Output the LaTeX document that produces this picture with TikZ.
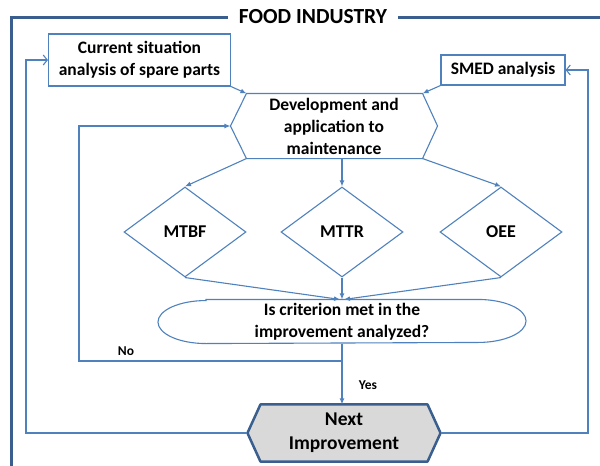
\documentclass[tikz,border=0pt]{standalone}
\usepackage{fontspec}
\setmainfont{Carlito}
\usetikzlibrary{shapes.geometric,arrows.meta,backgrounds}

\definecolor{lineblue}{HTML}{4F81BD}
\definecolor{frameblue}{HTML}{3A5F8F}
\definecolor{nextgray}{HTML}{D9D9D9}

\tikzset{
  box/.style={draw=lineblue, line width=1.1pt, align=center, inner sep=0pt,
    font=\bfseries\fontsize{17.5}{22}\selectfont},
  dia/.style={diamond, draw=lineblue, line width=1.1pt, inner sep=0pt,
    minimum width=122pt, minimum height=90pt,
    font=\bfseries\fontsize{18}{22}\selectfont},
  small/.style={font=\bfseries\fontsize{13.5}{16}\selectfont},
  link/.style={lineblue, line width=1.1pt},
  fillarr/.style={link, -{Latex[length=6pt,width=5pt]}},
  openarr/.style={link, -{Straight Barb[length=4pt,width=10pt]}},
  frame/.style={frameblue, line width=3pt}
}

\begin{document}
\begin{tikzpicture}[x=1pt,y=-1pt]
\useasboundingbox (0,0) rectangle (600,466);
\clip (0,0) rectangle (600,466);

\node[font=\bfseries\fontsize{21.5}{26}\selectfont, inner sep=11pt] (title) at (313,17) {FOOD INDUSTRY};
\coordinate (fcorner) at (11,17);
\coordinate (fbottom) at (11,475);
\coordinate (fright) at (610,17);
\draw[frame] (title.west) -- (fcorner) -- (fbottom);
\draw[frame] (title.east) -- (fright);

\node[box, minimum width=182pt, minimum height=52pt] (cur) at (139.5,60) {Current situation\\analysis of spare parts};
\node[box, minimum width=124pt, minimum height=30pt] (smed) at (503,70) {SMED analysis};

\node[box, draw=none, minimum width=206pt, minimum height=64pt] (dev) at (334,126) {Development and\\application to\\maintenance};
\draw[link] (dev.west) -- ([xshift=16pt]dev.north west) -- ([xshift=-15pt]dev.north east) -- (dev.east)
  -- ([xshift=-15pt]dev.south east) -- ([xshift=16pt]dev.south west) -- cycle;

\node[dia] (mtbf) at (185,232) {MTBF};
\node[dia] (mttr) at (342,232) {MTTR};
\node[dia] (oee) at (501,232) {OEE};

\node[box, draw=none, minimum width=367pt, minimum height=43pt] (crit) at (342,321.5) {Is criterion met in the\\improvement analyzed?};
\draw[link] ([xshift=48pt]crit.north west) -- ([xshift=-48pt]crit.north east)
  arc[start angle=90, end angle=-90, x radius=48pt, y radius=21.5pt]
  -- ([xshift=48pt]crit.south west)
  arc[start angle=270, end angle=90, x radius=48pt, y radius=21.5pt] -- cycle;

\node[box, draw=none, minimum width=192pt, minimum height=56pt,
  font=\bfseries\fontsize{19.5}{24}\selectfont] (next) at (344,433) {Next\\Improvement};
\begin{scope}[on background layer]
\filldraw[fill=nextgray, draw=frameblue, line width=2.5pt, line join=round] (next.west) -- ([xshift=13pt]next.north west)
  -- ([xshift=-13pt]next.north east) -- (next.east) -- ([xshift=-13pt]next.south east)
  -- ([xshift=13pt]next.south west) -- cycle;
\end{scope}

\draw[fillarr] (cur.south east) -- ([xshift=16pt]dev.north west);
\draw[fillarr] (smed.south west) -- ([xshift=-15pt]dev.north east);

\draw[fillarr] ([xshift=16pt]dev.south west) -- (mtbf.north);
\draw[fillarr] (dev.south -| mttr.north) -- (mttr.north);
\draw[fillarr] ([xshift=-15pt]dev.south east) -- (oee.north);

\draw[fillarr] (mtbf.south) -- ([xshift=-2pt]crit.north);
\draw[fillarr] (mttr.south) -- (crit.north);
\draw[fillarr] (oee.south) -- ([xshift=2pt]crit.north);

\draw[fillarr] (crit.south) -- (crit.south |- next.north);
\coordinate (nojoin) at (342,361);
\coordinate (noturn) at (79,361);
\draw[fillarr] (nojoin) -- (noturn) |- (dev.west);
\node[small] (nolbl) at (126,351) {No};
\node[small] (yeslbl) at (368,385) {Yes};

\coordinate (lturn) at (26,433);
\coordinate (rturn) at (588,433);
\draw[openarr] (next.west) -- (lturn) |- (cur.west);
\draw[openarr] (next.east) -- (rturn) |- (smed.east);

\end{tikzpicture}
\end{document}
